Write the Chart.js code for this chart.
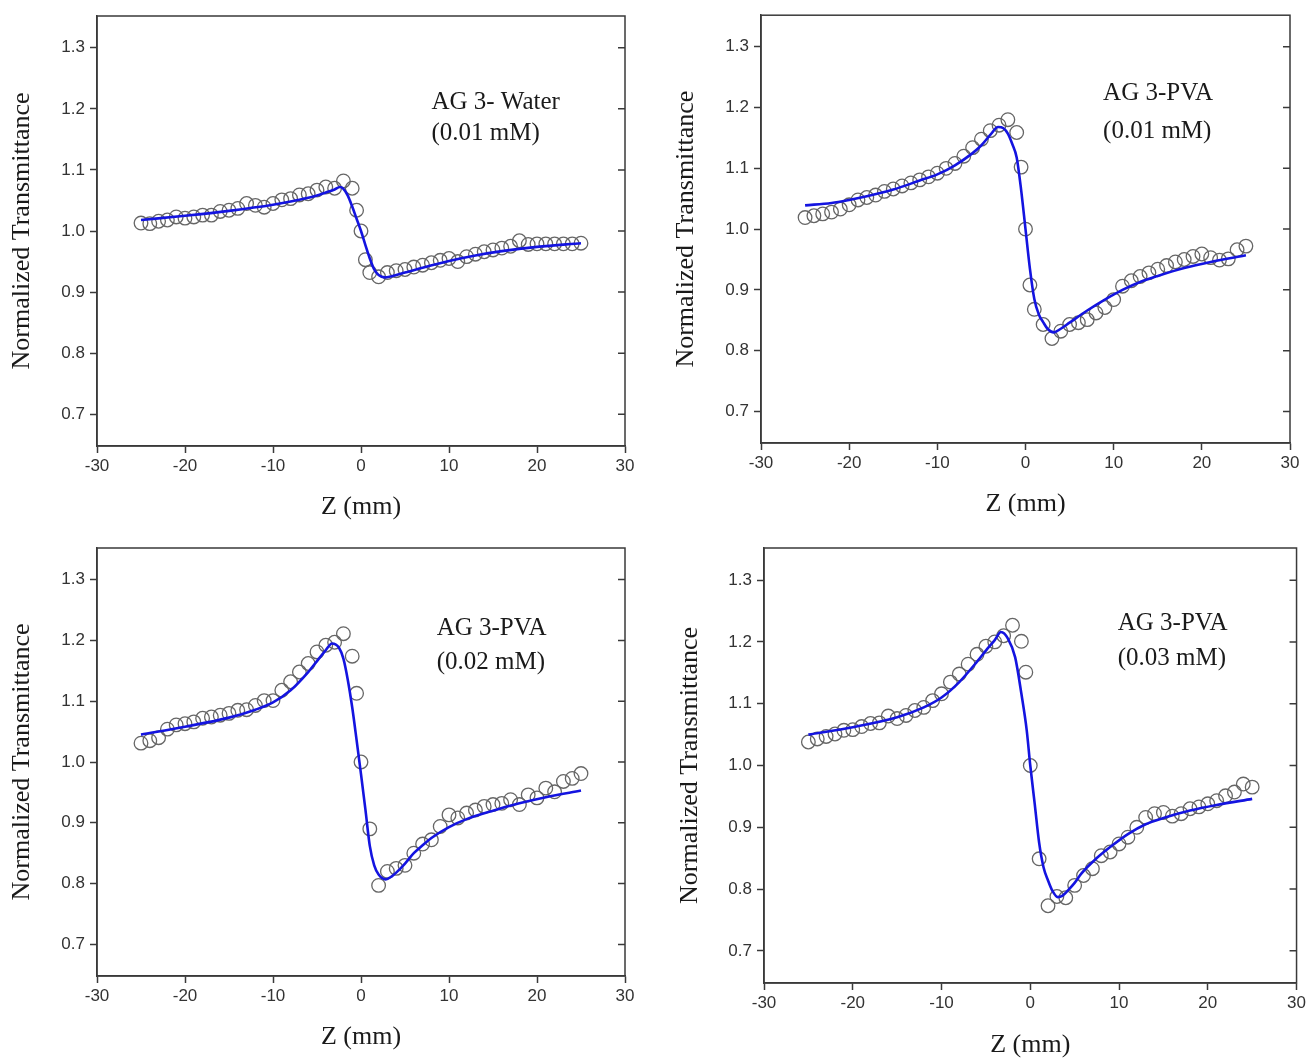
<!DOCTYPE html>
<html>
<head>
<meta charset="utf-8">
<title>Z-scan normalized transmittance</title>
<script src="https://cdn.jsdelivr.net/npm/chart.js@4.4.1/dist/chart.umd.min.js"></script>
<style>
  html, body { margin: 0; padding: 0; background: #fff; }
  #wrap { position: relative; width: 1309px; height: 1058px; overflow: hidden; background: #fff; }
  canvas { position: absolute; }
</style>
</head>
<body>
<div id="wrap">
  <canvas id="c1" width="650" height="525" style="left:0px;top:0px"></canvas>
  <canvas id="c2" width="649" height="525" style="left:660px;top:0px"></canvas>
  <canvas id="c3" width="650" height="528" style="left:0px;top:530px"></canvas>
  <canvas id="c4" width="649" height="528" style="left:660px;top:530px"></canvas>
</div>
<script>
// ─────────────────────────────────────────────
// Axis ticks (shared by all four panels)
// ─────────────────────────────────────────────
const X_TICKS = [-30, -20, -10, 0, 10, 20, 30];
const Y_TICKS = [0.7, 0.8, 0.9, 1.0, 1.1, 1.2, 1.3];

// ─────────────────────────────────────────────
// Panel 1: AG 3- Water (0.01 mM)
// ─────────────────────────────────────────────
const P1_LABEL = ["AG 3- Water", "(0.01 mM)"];
const P1_Z = [-25, -24, -23, -22, -21, -20, -19, -18, -17, -16, -15, -14, -13, -12, -11, -10, -9, -8, -7, -6, -5, -4, -3, -2, -1,
              -0.5, 0, 0.5, 1, 2, 3, 4, 5, 6, 7, 8, 9, 10, 11, 12, 13, 14, 15, 16, 17, 18, 19, 20, 21, 22, 23, 24, 25];
const P1_T = [1.013, 1.012, 1.016, 1.018, 1.023, 1.021, 1.023, 1.026, 1.026, 1.032, 1.034, 1.037, 1.045, 1.042, 1.039, 1.045, 1.051, 1.053, 1.059, 1.061, 1.067, 1.072, 1.070, 1.082, 1.070,
              1.034, 1.000, 0.953, 0.932, 0.925, 0.932, 0.935, 0.937, 0.941, 0.944, 0.948, 0.952, 0.955, 0.950, 0.958, 0.962, 0.966, 0.969, 0.972, 0.975, 0.984, 0.978, 0.979, 0.979, 0.979, 0.979, 0.979, 0.980];
const P1_FIT_Z = [-25, -20, -15, -10, -7, -5, -4, -3, -2.4, -2, -1.5, -1, -0.5, 0, 0.5, 1, 1.5, 2, 2.7, 3.5, 5, 7, 10, 13, 16, 20, 25];
const P1_FIT_T = [1.018, 1.025, 1.033, 1.043, 1.051, 1.058, 1.063, 1.068, 1.072, 1.069, 1.058, 1.040, 1.020, 1.000, 0.977, 0.955, 0.937, 0.928, 0.924, 0.926, 0.932, 0.940, 0.951, 0.960, 0.967, 0.974, 0.980];

// ─────────────────────────────────────────────
// Panel 2: AG 3-PVA (0.01 mM)
// ─────────────────────────────────────────────
const P2_LABEL = ["AG 3-PVA", "(0.01 mM)"];
const P2_Z = [-25, -24, -23, -22, -21, -20, -19, -18, -17, -16, -15, -14, -13, -12, -11, -10, -9, -8, -7, -6, -5, -4, -3, -2, -1,
              -0.5, 0, 0.5, 1, 2, 3, 4, 5, 6, 7, 8, 9, 10, 11, 12, 13, 14, 15, 16, 17, 18, 19, 20, 21, 22, 23, 24, 25];
const P2_T = [1.019, 1.022, 1.025, 1.028, 1.033, 1.040, 1.048, 1.052, 1.056, 1.062, 1.066, 1.071, 1.076, 1.081, 1.086, 1.092, 1.100, 1.108, 1.120, 1.134, 1.148, 1.162, 1.171, 1.180, 1.159,
              1.102, 1.000, 0.908, 0.868, 0.843, 0.820, 0.832, 0.843, 0.846, 0.851, 0.862, 0.871, 0.884, 0.906, 0.915, 0.922, 0.928, 0.934, 0.940, 0.946, 0.950, 0.955, 0.959, 0.953, 0.949, 0.951, 0.966, 0.972];
const P2_FIT_Z = [-25, -22, -20, -18, -15, -12, -10, -8, -6, -5, -4, -3.1, -2.5, -2, -1.5, -1, -0.5, 0, 0.5, 1, 1.5, 2, 2.5, 3.2, 4, 5, 7, 9, 11, 13, 15, 18, 21, 25];
const P2_FIT_T = [1.039, 1.043, 1.048, 1.054, 1.065, 1.080, 1.090, 1.105, 1.125, 1.138, 1.155, 1.168, 1.166, 1.157, 1.140, 1.118, 1.065, 1.000, 0.935, 0.885, 0.860, 0.847, 0.836, 0.830, 0.836, 0.846, 0.866, 0.884, 0.900, 0.913, 0.923, 0.936, 0.946, 0.957];

// ─────────────────────────────────────────────
// Panel 3: AG 3-PVA (0.02 mM)
// ─────────────────────────────────────────────
const P3_LABEL = ["AG 3-PVA", "(0.02 mM)"];
const P3_Z = [-25, -24, -23, -22, -21, -20, -19, -18, -17, -16, -15, -14, -13, -12, -11, -10, -9, -8, -7, -6, -5, -4, -3, -2, -1,
              -0.5, 0, 1, 2, 3, 4, 5, 6, 7, 8, 9, 10, 11, 12, 13, 14, 15, 16, 17, 18, 19, 20, 21, 22, 23, 24, 25];
const P3_T = [1.031, 1.035, 1.040, 1.054, 1.061, 1.063, 1.066, 1.072, 1.074, 1.077, 1.080, 1.085, 1.086, 1.093, 1.101, 1.101, 1.118, 1.132, 1.148, 1.162, 1.181, 1.192, 1.197, 1.211, 1.174,
              1.113, 1.000, 0.890, 0.797, 0.820, 0.825, 0.830, 0.850, 0.865, 0.872, 0.894, 0.913, 0.908, 0.916, 0.921, 0.927, 0.930, 0.932, 0.938, 0.930, 0.946, 0.941, 0.957, 0.951, 0.968, 0.973, 0.981];
const P3_FIT_Z = [-25, -20, -15, -12, -10, -8, -6, -5, -4, -3.3, -2.5, -2, -1.5, -1, -0.5, 0, 0.5, 1, 1.5, 2, 2.8, 3.5, 4, 5, 6, 7, 8, 10, 12, 15, 18, 21, 25];
const P3_FIT_T = [1.045, 1.058, 1.073, 1.086, 1.098, 1.118, 1.148, 1.166, 1.184, 1.195, 1.188, 1.170, 1.135, 1.090, 1.036, 0.980, 0.922, 0.862, 0.830, 0.815, 0.807, 0.812, 0.818, 0.833, 0.850, 0.863, 0.875, 0.893, 0.906, 0.920, 0.932, 0.942, 0.953];

// ─────────────────────────────────────────────
// Panel 4: AG 3-PVA (0.03 mM)
// ─────────────────────────────────────────────
const P4_LABEL = ["AG 3-PVA", "(0.03 mM)"];
const P4_Z = [-25, -24, -23, -22, -21, -20, -19, -18, -17, -16, -15, -14, -13, -12, -11, -10, -9, -8, -7, -6, -5, -4, -3, -2, -1,
              -0.5, 0, 1, 2, 3, 4, 5, 6, 7, 8, 9, 10, 11, 12, 13, 14, 15, 16, 17, 18, 19, 20, 21, 22, 23, 24, 25];
const P4_T = [1.038, 1.043, 1.047, 1.051, 1.057, 1.058, 1.063, 1.068, 1.069, 1.080, 1.076, 1.081, 1.089, 1.094, 1.105, 1.116, 1.135, 1.148, 1.164, 1.180, 1.193, 1.200, 1.210, 1.227, 1.201,
              1.151, 1.000, 0.849, 0.773, 0.788, 0.786, 0.806, 0.822, 0.833, 0.854, 0.860, 0.873, 0.884, 0.900, 0.916, 0.922, 0.924, 0.918, 0.922, 0.930, 0.933, 0.938, 0.943, 0.951, 0.957, 0.970, 0.965];
const P4_FIT_Z = [-25, -20, -15, -12, -10, -8, -6, -5, -4, -3.3, -2.5, -1.7, -1, -0.4, 0, 0.5, 1, 1.5, 2, 2.5, 3.1, 3.6, 4.25, 5, 5.75, 7.4, 9, 11, 13, 15, 18, 21, 25];
const P4_FIT_T = [1.050, 1.062, 1.078, 1.094, 1.110, 1.135, 1.168, 1.186, 1.203, 1.216, 1.205, 1.175, 1.116, 1.057, 1.000, 0.938, 0.875, 0.835, 0.814, 0.797, 0.787, 0.789, 0.798, 0.810, 0.825, 0.849, 0.868, 0.889, 0.905, 0.915, 0.927, 0.936, 0.946];

// ─────────────────────────────────────────────
// Styles
// ─────────────────────────────────────────────
const SERIF = "'Liberation Serif', 'Times New Roman', serif";
const SANS  = "'Liberation Sans', Arial, sans-serif";
const AXIS_COLOR = "#3a3a3a";
const FIT_COLOR  = "#1414e0";
const DOT_COLOR  = "#666666";

// Frame box, inward right-side ticks and the sample label
const framePlugin = {
  id: "panelFrame",
  afterDatasetsDraw(chart, args, opts) {
    const { ctx, chartArea: a, scales } = chart;
    ctx.save();
    ctx.strokeStyle = AXIS_COLOR;
    ctx.lineWidth = 1.5;
    ctx.strokeRect(a.left, a.top, a.right - a.left, a.bottom - a.top);
    ctx.beginPath();
    scales.y.ticks.forEach(t => {
      const py = scales.y.getPixelForValue(t.value);
      ctx.moveTo(a.right, py);
      ctx.lineTo(a.right - 7, py);
    });
    ctx.stroke();

    ctx.fillStyle = "#1a1a1a";
    ctx.font = `25px ${SERIF}`;
    ctx.textAlign = "left";
    ctx.textBaseline = "middle";
    const px = scales.x.getPixelForValue(opts.x);
    opts.text.forEach((line, i) => {
      ctx.fillText(line, px, scales.y.getPixelForValue(opts.y[i]));
    });
    ctx.restore();
  }
};

function makePanel(id, zs, ts, fitZ, fitT, label, layout) {
  const pts = zs.map((z, i) => ({ x: z, y: ts[i] }));
  const fit = fitZ.map((z, i) => ({ x: z, y: fitT[i] }));

  new Chart(document.getElementById(id), {
    type: "scatter",
    data: {
      datasets: [
        {
          label: "fit",
          data: fit,
          showLine: true,
          borderColor: FIT_COLOR,
          borderWidth: 2.6,
          pointRadius: 0,
          cubicInterpolationMode: "monotone",
          order: 0,
        },
        {
          label: "data",
          data: pts,
          pointRadius: 6.8,
          pointBorderWidth: 1.3,
          pointBorderColor: DOT_COLOR,
          pointBackgroundColor: "rgba(255,255,255,0)",
          order: 1,
        },
      ]
    },
    options: {
      responsive: false,
      animation: false,
      devicePixelRatio: 1,
      layout: { padding: { top: layout.top, right: layout.right, left: 0, bottom: 0 } },
      plugins: {
        legend: { display: false },
        tooltip: { enabled: false },
        panelFrame: { text: label, x: layout.labelX, y: layout.labelY },
      },
      scales: {
        x: {
          type: "linear",
          min: -30, max: 30,
          afterBuildTicks: s => { s.ticks = X_TICKS.map(value => ({ value })); },
          afterFit: s => { s.height = layout.xHeight; },
          ticks: { color: "#333", font: { family: SANS, size: 17 }, padding: 3, maxRotation: 0 },
          grid: { drawOnChartArea: false, color: AXIS_COLOR, tickLength: 7, tickWidth: 1.5 },
          border: { display: true, color: AXIS_COLOR, width: 1.5 },
          title: {
            display: true, text: "Z (mm)", color: "#1a1a1a",
            font: { family: SERIF, size: 26, lineHeight: 1 },
            padding: { top: 0, bottom: layout.xTitlePad },
          },
        },
        y: {
          type: "linear",
          min: 0.648, max: 1.352,
          afterBuildTicks: s => { s.ticks = Y_TICKS.map(value => ({ value })); },
          afterFit: s => { s.width = layout.yWidth; },
          ticks: { color: "#333", font: { family: SANS, size: 17 }, padding: 5, callback: v => v.toFixed(1) },
          grid: { drawOnChartArea: false, color: AXIS_COLOR, tickLength: 7, tickWidth: 1.5 },
          border: { display: true, color: AXIS_COLOR, width: 1.5 },
          title: {
            display: true, text: "Normalized Transmittance", color: "#1a1a1a",
            font: { family: SERIF, size: 26, lineHeight: 1 },
            padding: { top: layout.yTitlePad, bottom: 0 },
          },
        },
      },
    },
    plugins: [framePlugin],
  });
}

makePanel("c1", P1_Z, P1_T, P1_FIT_Z, P1_FIT_T, P1_LABEL,
  { top: 16, right: 25, yWidth: 97, xHeight: 79, yTitlePad: 9, xTitlePad: 5, labelX: 8, labelY: [1.211, 1.16] });
makePanel("c2", P2_Z, P2_T, P2_FIT_Z, P2_FIT_T, P2_LABEL,
  { top: 10, right: 19, yWidth: 101, xHeight: 82, yTitlePad: 13, xTitlePad: 8, labelX: 8.8, labelY: [1.224, 1.161] });
makePanel("c3", P3_Z, P3_T, P3_FIT_Z, P3_FIT_T, P3_LABEL,
  { top: 18, right: 25, yWidth: 97, xHeight: 82, yTitlePad: 9, xTitlePad: 8, labelX: 8.6, labelY: [1.22, 1.164] });
makePanel("c4", P4_Z, P4_T, P4_FIT_Z, P4_FIT_T, P4_LABEL,
  { top: 18, right: 9, yWidth: 104, xHeight: 75, yTitlePad: 17, xTitlePad: 0, labelX: 9.85, labelY: [1.23, 1.173] });
</script>
</body>
</html>
